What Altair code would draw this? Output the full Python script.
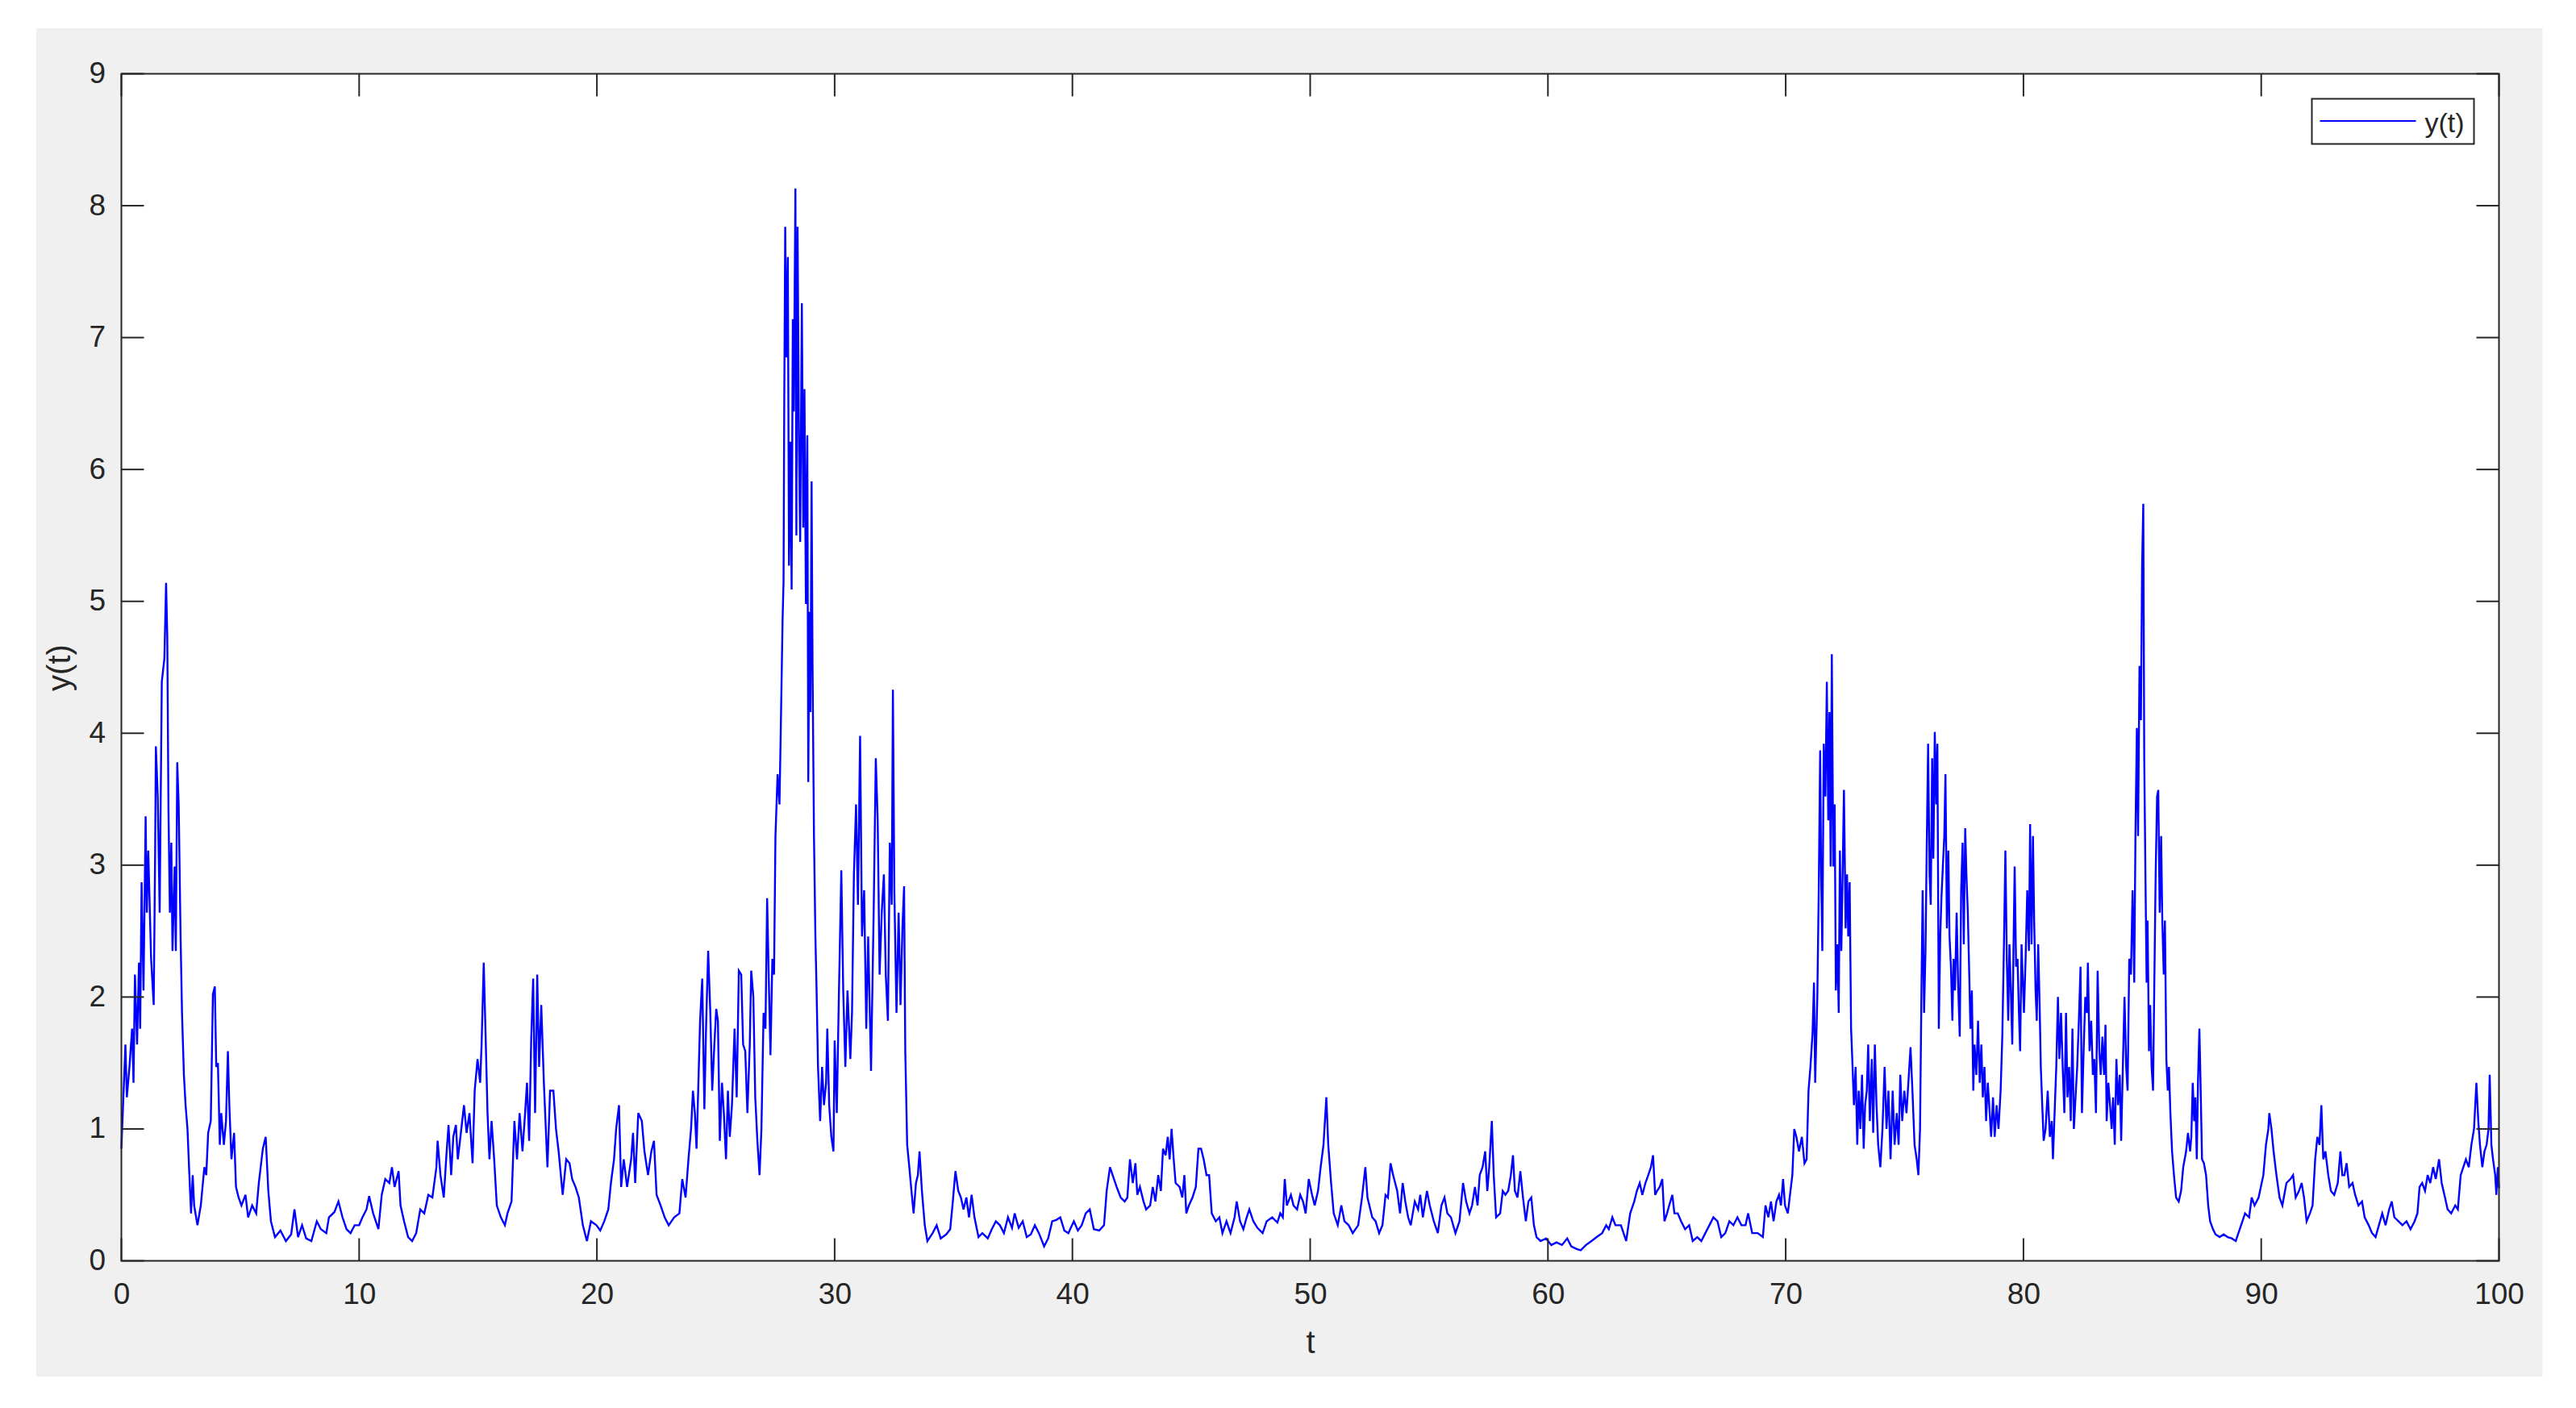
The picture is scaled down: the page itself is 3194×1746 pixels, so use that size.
import altair as alt
import pandas as pd

# ---- data: (t, y(t)) ----
seg_00_10 = [(0, 0.85), (0.17, 1.64), (0.23, 1.24), (0.34, 1.47), (0.45, 1.76), (0.51, 1.35), (0.57, 2.17), (0.66, 1.64),
             (0.74, 2.26), (0.79, 1.76), (0.85, 2.87), (0.93, 2.05), (1.02, 3.37), (1.07, 2.64), (1.13, 3.11), (1.25, 2.29),
             (1.36, 1.94), (1.42, 3.10), (1.45, 3.90), (1.53, 3.52), (1.61, 2.64), (1.70, 4.39), (1.81, 4.57), (1.88, 5.14),
             (1.93, 4.74), (1.98, 3.43), (2.04, 2.64), (2.10, 3.17), (2.15, 2.35), (2.24, 2.99), (2.29, 2.35), (2.35, 3.78),
             (2.41, 3.46), (2.49, 2.46), (2.55, 1.88), (2.63, 1.41), (2.70, 1.18), (2.78, 1.00), (2.86, 0.65), (2.93, 0.36),
             (3.00, 0.65), (3.06, 0.42), (3.20, 0.27), (3.34, 0.42), (3.49, 0.71), (3.57, 0.65), (3.65, 0.97), (3.76, 1.06),
             (3.85, 2.02), (3.93, 2.08), (3.99, 1.47), (4.06, 1.50), (4.14, 0.88), (4.20, 1.12), (4.31, 0.88), (4.40, 1.06),
             (4.48, 1.59), (4.54, 1.18), (4.63, 0.77), (4.74, 0.97), (4.82, 0.56), (4.93, 0.48), (5.05, 0.42), (5.22, 0.50),
             (5.33, 0.33), (5.50, 0.42), (5.67, 0.36), (5.78, 0.59), (5.95, 0.85), (6.07, 0.94), (6.18, 0.53), (6.29, 0.30),
             (6.46, 0.18), (6.69, 0.23), (6.92, 0.15), (7.14, 0.20), (7.28, 0.39), (7.43, 0.18), (7.60, 0.27), (7.77, 0.17),
             (7.99, 0.15), (8.22, 0.30), (8.39, 0.24), (8.62, 0.21), (8.73, 0.33), (8.96, 0.37), (9.13, 0.45), (9.30, 0.33),
             (9.47, 0.24), (9.64, 0.21), (9.81, 0.27), (10.0, 0.27)]

seg_10_20 = [(10.14, 0.33), (10.31, 0.39), (10.42, 0.49), (10.59, 0.36), (10.81, 0.24), (10.95, 0.50), (11.10, 0.62),
             (11.27, 0.59), (11.38, 0.71), (11.49, 0.56), (11.66, 0.68), (11.74, 0.42), (11.89, 0.30), (12.06, 0.18),
             (12.23, 0.15), (12.40, 0.21), (12.57, 0.39), (12.74, 0.36), (12.91, 0.50), (13.08, 0.48), (13.25, 0.71),
             (13.30, 0.91), (13.42, 0.65), (13.56, 0.48), (13.67, 0.80), (13.76, 1.03), (13.87, 0.65), (13.96, 0.94),
             (14.07, 1.03), (14.15, 0.77), (14.26, 0.94), (14.41, 1.18), (14.52, 0.97), (14.64, 1.12), (14.77, 0.74),
             (14.86, 1.29), (14.98, 1.53), (15.09, 1.35), (15.15, 1.64), (15.24, 2.26), (15.32, 1.70), (15.40, 1.12),
             (15.48, 0.77), (15.57, 1.06), (15.68, 0.77), (15.79, 0.42), (15.96, 0.33), (16.13, 0.27), (16.24, 0.36),
             (16.41, 0.45), (16.53, 1.06), (16.64, 0.77), (16.75, 1.12), (16.87, 0.83), (16.98, 1.12), (17.06, 1.35),
             (17.15, 0.91), (17.24, 1.70), (17.32, 2.14), (17.40, 1.12), (17.49, 2.17), (17.57, 1.47), (17.66, 1.94),
             (17.77, 1.35), (17.92, 0.71), (18.03, 1.29), (18.17, 1.29), (18.28, 1.00), (18.39, 0.83), (18.56, 0.50),
             (18.71, 0.77), (18.85, 0.74), (18.96, 0.62), (19.10, 0.56), (19.24, 0.48), (19.41, 0.27), (19.58, 0.15),
             (19.75, 0.30), (19.98, 0.27)]

seg_20_30 = [(20.14, 0.23), (20.31, 0.30), (20.48, 0.39), (20.59, 0.59), (20.72, 0.77), (20.81, 1.00), (20.93, 1.18),
             (21.02, 0.56), (21.13, 0.77), (21.27, 0.56), (21.44, 0.77), (21.52, 0.97), (21.61, 0.59), (21.74, 1.12),
             (21.89, 1.06), (22.00, 0.83), (22.15, 0.65), (22.29, 0.83), (22.40, 0.91), (22.51, 0.50), (22.68, 0.42),
             (22.85, 0.33), (23.02, 0.27), (23.25, 0.33), (23.47, 0.36), (23.59, 0.62), (23.73, 0.48), (23.85, 0.77),
             (23.96, 1.00), (24.04, 1.29), (24.12, 1.12), (24.19, 0.85), (24.26, 1.29), (24.34, 1.82), (24.43, 2.14),
             (24.52, 1.15), (24.59, 1.76), (24.68, 2.35), (24.77, 1.88), (24.85, 1.29), (24.94, 1.64), (25.02, 1.91),
             (25.09, 1.82), (25.17, 0.91), (25.26, 1.35), (25.34, 1.12), (25.43, 0.77), (25.51, 1.29), (25.59, 0.94),
             (25.68, 1.18), (25.79, 1.76), (25.88, 1.24), (25.97, 2.20), (26.07, 2.17), (26.15, 1.64), (26.24, 1.59),
             (26.33, 1.12), (26.43, 1.64), (26.49, 2.20), (26.58, 2.00), (26.66, 1.24), (26.75, 0.91), (26.84, 0.65),
             (26.92, 1.00), (27.01, 1.88), (27.09, 1.76), (27.16, 2.75), (27.24, 2.05), (27.30, 1.56), (27.38, 2.29),
             (27.45, 2.17), (27.51, 3.22), (27.60, 3.69), (27.68, 3.46), (27.74, 4.10), (27.81, 4.86), (27.85, 5.15),
             (27.88, 6.50), (27.92, 7.84), (27.97, 6.85), (28.03, 7.61), (28.08, 5.27), (28.14, 6.21), (28.19, 5.09),
             (28.24, 7.14), (28.28, 6.44), (28.35, 8.13), (28.39, 5.50), (28.44, 7.84), (28.50, 6.15), (28.55, 5.45),
             (28.62, 7.26), (28.68, 5.56), (28.73, 6.61), (28.79, 4.98), (28.85, 6.26), (28.89, 3.63), (28.94, 4.92),
             (28.98, 4.16), (29.03, 5.91), (29.07, 4.51), (29.13, 3.22), (29.19, 2.46), (29.24, 2.05), (29.30, 1.47),
             (29.39, 1.06), (29.47, 1.47), (29.55, 1.18), (29.64, 1.35), (29.69, 1.76), (29.77, 1.18), (29.86, 0.94),
             (29.95, 0.83)]

seg_30_40 = [(30.00, 1.67), (30.09, 1.12), (30.17, 1.94), (30.28, 2.96), (30.36, 2.05), (30.45, 1.47), (30.54, 2.05),
             (30.66, 1.53), (30.73, 1.88), (30.81, 2.93), (30.90, 3.46), (30.98, 2.70), (31.07, 3.98), (31.15, 2.46),
             (31.24, 2.81), (31.33, 1.76), (31.41, 2.46), (31.53, 1.44), (31.64, 2.64), (31.73, 3.81), (31.81, 3.34),
             (31.89, 2.17), (31.98, 2.64), (32.07, 2.93), (32.15, 2.17), (32.24, 1.82), (32.32, 3.17), (32.40, 2.70),
             (32.45, 4.33), (32.51, 2.81), (32.60, 1.88), (32.69, 2.64), (32.77, 1.94), (32.85, 2.52), (32.92, 2.84),
             (32.97, 1.59), (33.05, 0.88), (33.14, 0.71), (33.23, 0.53), (33.32, 0.36), (33.42, 0.59), (33.50, 0.65),
             (33.57, 0.83), (33.67, 0.53), (33.79, 0.27), (33.90, 0.15), (34.12, 0.21), (34.29, 0.27), (34.46, 0.17),
             (34.69, 0.20), (34.86, 0.24), (34.97, 0.45), (35.08, 0.68), (35.20, 0.53), (35.31, 0.48), (35.42, 0.39),
             (35.54, 0.48), (35.65, 0.33), (35.76, 0.50), (35.88, 0.33), (36.05, 0.18), (36.21, 0.21), (36.44, 0.17),
             (36.61, 0.24), (36.78, 0.30), (36.95, 0.27), (37.12, 0.21), (37.29, 0.33), (37.46, 0.25), (37.57, 0.36),
             (37.74, 0.25), (37.91, 0.30), (38.08, 0.18), (38.25, 0.20), (38.42, 0.27), (38.59, 0.21), (38.81, 0.11),
             (38.98, 0.17), (39.15, 0.30), (39.32, 0.31), (39.49, 0.33), (39.66, 0.23), (39.83, 0.21)]

seg_40_50 = [(40.06, 0.30), (40.23, 0.23), (40.39, 0.27), (40.56, 0.36), (40.73, 0.39), (40.90, 0.24), (41.13, 0.23),
             (41.33, 0.27), (41.44, 0.53), (41.58, 0.71), (41.69, 0.65), (41.86, 0.56), (42.03, 0.48), (42.20, 0.45),
             (42.31, 0.48), (42.42, 0.77), (42.54, 0.59), (42.65, 0.74), (42.73, 0.50), (42.84, 0.56), (42.99, 0.45),
             (43.10, 0.39), (43.27, 0.42), (43.38, 0.56), (43.49, 0.45), (43.61, 0.65), (43.72, 0.53), (43.81, 0.85),
             (43.92, 0.80), (44.01, 0.94), (44.09, 0.77), (44.17, 1.00), (44.26, 0.77), (44.34, 0.59), (44.51, 0.56),
             (44.62, 0.48), (44.71, 0.65), (44.79, 0.36), (44.90, 0.42), (45.05, 0.48), (45.19, 0.56), (45.30, 0.85),
             (45.41, 0.85), (45.52, 0.77), (45.64, 0.65), (45.75, 0.65), (45.86, 0.36), (46.03, 0.30), (46.18, 0.33),
             (46.31, 0.21), (46.48, 0.30), (46.65, 0.21), (46.82, 0.33), (46.91, 0.45), (47.05, 0.30), (47.19, 0.24),
             (47.33, 0.33), (47.44, 0.39), (47.61, 0.30), (47.78, 0.25), (48.00, 0.21), (48.17, 0.30), (48.40, 0.33),
             (48.62, 0.29), (48.74, 0.36), (48.85, 0.33), (48.93, 0.62), (49.02, 0.42), (49.19, 0.50), (49.30, 0.42),
             (49.45, 0.39), (49.58, 0.50), (49.70, 0.45), (49.81, 0.36), (49.94, 0.62)]

seg_50_60 = [(50.08, 0.50), (50.19, 0.42), (50.33, 0.53), (50.44, 0.71), (50.56, 0.88), (50.68, 1.24), (50.76, 0.88),
             (50.88, 0.59), (50.99, 0.36), (51.16, 0.27), (51.31, 0.42), (51.44, 0.30), (51.62, 0.27), (51.79, 0.21),
             (52.02, 0.27), (52.18, 0.48), (52.32, 0.71), (52.41, 0.48), (52.61, 0.33), (52.75, 0.30), (52.90, 0.21),
             (53.04, 0.27), (53.17, 0.50), (53.27, 0.48), (53.38, 0.74), (53.49, 0.65), (53.66, 0.53), (53.78, 0.36),
             (53.89, 0.59), (54.00, 0.45), (54.12, 0.33), (54.23, 0.27), (54.40, 0.45), (54.54, 0.39), (54.63, 0.50),
             (54.74, 0.33), (54.91, 0.53), (55.03, 0.42), (55.20, 0.30), (55.37, 0.21), (55.52, 0.42), (55.65, 0.48),
             (55.77, 0.36), (55.92, 0.33), (56.11, 0.21), (56.28, 0.30), (56.43, 0.59), (56.56, 0.45), (56.70, 0.36),
             (56.81, 0.42), (56.93, 0.56), (57.04, 0.42), (57.13, 0.65), (57.25, 0.71), (57.36, 0.83), (57.45, 0.53),
             (57.53, 0.71), (57.64, 1.06), (57.72, 0.65), (57.82, 0.33), (57.99, 0.36), (58.10, 0.53), (58.21, 0.50),
             (58.33, 0.53), (58.44, 0.65), (58.53, 0.80), (58.61, 0.53), (58.72, 0.48), (58.84, 0.68), (58.95, 0.48),
             (59.07, 0.30), (59.18, 0.45), (59.30, 0.48), (59.41, 0.27), (59.52, 0.18), (59.69, 0.15), (59.92, 0.17)]

seg_60_70 = [(60.14, 0.12), (60.36, 0.14), (60.59, 0.12), (60.81, 0.17), (60.98, 0.11), (61.21, 0.09), (61.38, 0.08),
             (61.60, 0.12), (61.83, 0.15), (62.05, 0.18), (62.28, 0.21), (62.45, 0.27), (62.56, 0.24), (62.71, 0.33),
             (62.84, 0.27), (63.07, 0.27), (63.29, 0.15), (63.46, 0.36), (63.63, 0.45), (63.74, 0.53), (63.86, 0.59),
             (63.97, 0.50), (64.10, 0.59), (64.22, 0.65), (64.33, 0.71), (64.42, 0.80), (64.51, 0.50), (64.59, 0.53),
             (64.70, 0.56), (64.81, 0.62), (64.90, 0.30), (65.01, 0.36), (65.10, 0.42), (65.23, 0.50), (65.32, 0.36),
             (65.46, 0.36), (65.60, 0.30), (65.77, 0.24), (65.94, 0.27), (66.09, 0.15), (66.28, 0.18), (66.45, 0.15),
             (66.62, 0.21), (66.79, 0.27), (66.96, 0.33), (67.13, 0.30), (67.29, 0.18), (67.46, 0.21), (67.63, 0.30),
             (67.80, 0.27), (67.97, 0.33), (68.14, 0.27), (68.31, 0.27), (68.42, 0.36), (68.59, 0.21), (68.82, 0.21),
             (69.04, 0.18), (69.15, 0.42), (69.27, 0.33), (69.38, 0.45), (69.49, 0.30), (69.61, 0.45), (69.72, 0.50),
             (69.80, 0.42), (69.89, 0.62), (69.97, 0.42)]

seg_70_80 = [(70.09, 0.36), (70.20, 0.53), (70.28, 0.65), (70.36, 1.00), (70.45, 0.94), (70.56, 0.83), (70.68, 0.94),
             (70.79, 0.74), (70.88, 0.77), (70.96, 1.29), (71.04, 1.47), (71.13, 1.73), (71.19, 2.11), (71.24, 1.35),
             (71.33, 2.00), (71.39, 2.81), (71.45, 3.87), (71.49, 2.93), (71.54, 2.35), (71.60, 3.92), (71.67, 3.52),
             (71.73, 4.39), (71.79, 3.34), (71.84, 4.16), (71.89, 2.99), (71.94, 4.60), (72.00, 2.99), (72.06, 3.46),
             (72.11, 2.05), (72.17, 2.40), (72.23, 1.88), (72.28, 3.11), (72.34, 2.35), (72.40, 2.99), (72.45, 3.57),
             (72.52, 2.52), (72.58, 2.93), (72.63, 2.46), (72.69, 2.87), (72.75, 1.76), (72.80, 1.53), (72.87, 1.18),
             (72.94, 1.47), (73.01, 0.88), (73.07, 1.29), (73.14, 1.00), (73.21, 1.41), (73.28, 0.85), (73.34, 1.18),
             (73.41, 1.29), (73.47, 1.64), (73.54, 1.06), (73.62, 1.53), (73.68, 0.97), (73.75, 1.64), (73.82, 1.18),
             (73.89, 0.88), (73.98, 0.71), (74.07, 1.00), (74.16, 1.47), (74.24, 1.00), (74.32, 1.29), (74.41, 0.77),
             (74.50, 1.29), (74.58, 0.88), (74.67, 1.12), (74.75, 0.88), (74.82, 1.41), (74.90, 1.06), (74.99, 1.29),
             (75.08, 1.12), (75.18, 1.41), (75.25, 1.62), (75.33, 1.29), (75.42, 0.88), (75.51, 0.77), (75.58, 0.65),
             (75.65, 1.00), (75.71, 2.05), (75.76, 2.81), (75.82, 1.88), (75.88, 2.35), (75.93, 3.11), (75.99, 3.92),
             (76.05, 2.93), (76.10, 2.70), (76.16, 3.81), (76.21, 3.05), (76.27, 4.01), (76.33, 3.46), (76.38, 3.92),
             (76.44, 1.76), (76.50, 2.46), (76.55, 2.75), (76.61, 2.99), (76.67, 3.22), (76.72, 3.69), (76.78, 2.52),
             (76.84, 3.11), (76.89, 2.46), (76.95, 2.23), (77.01, 1.82), (77.06, 2.29), (77.12, 2.05), (77.19, 2.64),
             (77.25, 2.11), (77.32, 1.70), (77.38, 2.81), (77.44, 3.17), (77.49, 2.40), (77.55, 3.28), (77.60, 2.93),
             (77.66, 2.64), (77.72, 2.17), (77.77, 1.76), (77.83, 2.05), (77.89, 1.29), (77.94, 1.64), (78.02, 1.41),
             (78.09, 1.82), (78.16, 1.35), (78.23, 1.64), (78.29, 1.24), (78.36, 1.47), (78.43, 1.06), (78.50, 1.35),
             (78.56, 1.18), (78.64, 0.94), (78.72, 1.24), (78.79, 0.94), (78.87, 1.18), (78.95, 1.00), (79.04, 1.29),
             (79.11, 1.70), (79.18, 2.40), (79.24, 3.11), (79.30, 2.29), (79.36, 1.82), (79.41, 2.40), (79.47, 2.05),
             (79.53, 1.64), (79.58, 2.35), (79.63, 2.99), (79.69, 2.23), (79.75, 2.29), (79.81, 1.88), (79.86, 1.59),
             (79.92, 2.40)]

seg_80_90 = [(80.02, 1.88), (80.09, 2.29), (80.16, 2.81), (80.23, 2.35), (80.28, 3.31), (80.34, 2.40), (80.40, 3.22),
             (80.45, 2.58), (80.51, 2.05), (80.56, 1.82), (80.62, 2.40), (80.68, 1.94), (80.73, 1.47), (80.79, 1.18),
             (80.85, 0.91), (80.93, 1.00), (81.02, 1.29), (81.11, 0.94), (81.19, 1.06), (81.24, 0.77), (81.31, 1.12),
             (81.38, 1.47), (81.45, 2.00), (81.51, 1.53), (81.58, 1.88), (81.65, 1.47), (81.72, 1.12), (81.79, 1.88),
             (81.85, 1.24), (81.92, 1.47), (81.99, 1.06), (82.06, 1.76), (82.12, 1.00), (82.19, 1.24), (82.26, 1.47),
             (82.33, 1.82), (82.40, 2.23), (82.46, 1.12), (82.53, 1.59), (82.60, 2.00), (82.67, 1.88), (82.71, 2.26),
             (82.78, 1.59), (82.85, 1.82), (82.92, 1.41), (82.98, 1.53), (83.05, 1.12), (83.12, 2.20), (83.19, 1.59),
             (83.25, 1.41), (83.32, 1.70), (83.39, 1.41), (83.45, 1.79), (83.50, 1.06), (83.57, 1.35), (83.64, 1.18),
             (83.71, 1.00), (83.77, 1.24), (83.84, 0.88), (83.91, 1.53), (83.98, 1.18), (84.05, 1.41), (84.11, 0.91),
             (84.18, 1.47), (84.25, 2.00), (84.32, 1.47), (84.38, 1.29), (84.45, 2.29), (84.52, 2.17), (84.59, 2.81),
             (84.66, 2.11), (84.71, 3.22), (84.77, 4.04), (84.82, 3.22), (84.88, 4.51), (84.94, 4.10), (84.99, 5.27),
             (85.04, 5.74), (85.08, 3.81), (85.13, 2.93), (85.18, 2.11), (85.22, 2.58), (85.28, 1.59), (85.33, 1.94),
             (85.39, 1.47), (85.45, 1.29), (85.50, 2.05), (85.56, 2.93), (85.62, 3.52), (85.67, 3.57), (85.73, 2.64),
             (85.79, 3.22), (85.84, 2.58), (85.90, 2.17), (85.95, 2.58), (86.01, 1.53), (86.07, 1.29), (86.12, 1.47),
             (86.18, 1.12), (86.25, 0.83), (86.33, 0.65), (86.42, 0.48), (86.53, 0.45), (86.63, 0.53), (86.72, 0.71),
             (86.84, 0.83), (86.92, 0.97), (87.01, 0.83), (87.06, 0.94), (87.12, 1.35), (87.18, 1.06), (87.23, 1.24),
             (87.29, 0.77), (87.34, 1.35), (87.40, 1.76), (87.46, 1.24), (87.51, 0.77), (87.59, 0.74), (87.68, 0.65),
             (87.77, 0.42), (87.85, 0.30), (87.97, 0.24), (88.08, 0.20), (88.25, 0.18), (88.42, 0.20), (88.59, 0.18),
             (88.76, 0.17), (88.93, 0.15), (89.04, 0.21), (89.21, 0.30), (89.32, 0.36), (89.49, 0.33), (89.60, 0.48),
             (89.72, 0.42), (89.89, 0.48)]

seg_90_100 = [(90.09, 0.65), (90.20, 0.88), (90.30, 1.00), (90.34, 1.12), (90.43, 1.00), (90.52, 0.83), (90.64, 0.65),
              (90.77, 0.48), (90.89, 0.42), (91.06, 0.59), (91.23, 0.62), (91.34, 0.65), (91.45, 0.48), (91.59, 0.53),
              (91.70, 0.59), (91.80, 0.48), (91.91, 0.30), (92.05, 0.36), (92.16, 0.42), (92.27, 0.77), (92.36, 0.94),
              (92.45, 0.88), (92.53, 1.18), (92.61, 0.77), (92.70, 0.83), (92.82, 0.65), (92.93, 0.53), (93.07, 0.50),
              (93.22, 0.59), (93.33, 0.83), (93.41, 0.65), (93.50, 0.65), (93.59, 0.74), (93.70, 0.56), (93.84, 0.59),
              (93.95, 0.50), (94.09, 0.42), (94.24, 0.45), (94.35, 0.33), (94.52, 0.27), (94.66, 0.21), (94.81, 0.18),
              (94.95, 0.27), (95.09, 0.36), (95.23, 0.27), (95.38, 0.39), (95.49, 0.45), (95.60, 0.33), (95.77, 0.30),
              (95.94, 0.27), (96.11, 0.30), (96.28, 0.24), (96.45, 0.30), (96.57, 0.36), (96.66, 0.56), (96.77, 0.59),
              (96.89, 0.53), (97.00, 0.65), (97.11, 0.59), (97.23, 0.71), (97.34, 0.62), (97.48, 0.77), (97.59, 0.59),
              (97.73, 0.48), (97.84, 0.39), (97.99, 0.36), (98.16, 0.42), (98.27, 0.39), (98.39, 0.65), (98.50, 0.71),
              (98.61, 0.77), (98.73, 0.71), (98.84, 0.88), (98.95, 1.00), (99.05, 1.35), (99.13, 1.06), (99.20, 0.88),
              (99.30, 0.71), (99.39, 0.83), (99.48, 0.88), (99.56, 1.00), (99.61, 1.41), (99.68, 0.88), (99.75, 0.77),
              (99.84, 0.65), (99.89, 0.50), (99.95, 0.71), (100.0, 0.55)]

x_ticks = [0, 10, 20, 30, 40, 50, 60, 70, 80, 90, 100]
y_ticks = [0, 1, 2, 3, 4, 5, 6, 7, 8, 9]
legend_labels = ["y(t)"]

points = (seg_00_10 + seg_10_20 + seg_20_30 + seg_30_40 + seg_40_50 +
          seg_50_60 + seg_60_70 + seg_70_80 + seg_80_90 + seg_90_100)
df = pd.DataFrame(points, columns=["t", "y"])
xt = pd.DataFrame({"t": x_ticks})
yt = pd.DataFrame({"y": y_ticks})
leg = pd.DataFrame({"label": legend_labels})
one = alt.Data(values=[{"k": 1}])

W, H = 2948, 1472
FONT = "Liberation Sans"
INK = "#262626"
BLUE = "#0000ff"
TICK = 28

xs = alt.Scale(domain=[0, 100], nice=False, zero=False)
ys = alt.Scale(domain=[0, 9], nice=False, zero=False)

x_axis = alt.Axis(
    values=x_ticks, ticks=False, tickSize=0, domain=False, grid=False, format="d",
    labelFlush=False, labelOverlap=False,
    labelFont=FONT, labelFontSize=37, labelColor=INK, labelPadding=24,
    title="t", titleFont=FONT, titleFontSize=40, titleFontWeight="normal", titleColor=INK,
    titleX=W / 2, titleY=102, titleAlign="center", titleBaseline="middle", zindex=2)
y_axis = alt.Axis(
    values=y_ticks, ticks=False, tickSize=0, domain=False, grid=False, format="d",
    labelFlush=False, labelOverlap=False,
    labelFont=FONT, labelFontSize=37, labelColor=INK, labelPadding=20,
    title="y(t)", titleFont=FONT, titleFontSize=40, titleFontWeight="normal", titleColor=INK,
    titleX=-76, titleY=H / 2, titleAngle=-90, titleAlign="center", titleBaseline="middle", zindex=2)

fig_bg = alt.Chart(one).mark_rect(color="#f0f0f0").encode(
    x=alt.value(-105.5), x2=alt.value(W + 54), y=alt.value(-56.5), y2=alt.value(H + 143.5))
plot_bg = alt.Chart(one).mark_rect(color="white").encode(
    x=alt.value(0), x2=alt.value(W), y=alt.value(0), y2=alt.value(H))

line = alt.Chart(df).mark_line(color=BLUE, strokeWidth=2.4).encode(
    x=alt.X("t:Q", scale=xs, axis=x_axis),
    y=alt.Y("y:Q", scale=ys, axis=y_axis),
)

xtick_bottom = alt.Chart(xt).mark_rule(color=INK, strokeWidth=2).encode(
    x=alt.X("t:Q", scale=xs, axis=x_axis), y=alt.value(H), y2=alt.value(H - TICK))
xtick_top = alt.Chart(xt).mark_rule(color=INK, strokeWidth=2).encode(
    x=alt.X("t:Q", scale=xs, axis=x_axis), y=alt.value(0), y2=alt.value(TICK))
ytick_left = alt.Chart(yt).mark_rule(color=INK, strokeWidth=2).encode(
    y=alt.Y("y:Q", scale=ys, axis=y_axis), x=alt.value(0), x2=alt.value(TICK))
ytick_right = alt.Chart(yt).mark_rule(color=INK, strokeWidth=2).encode(
    y=alt.Y("y:Q", scale=ys, axis=y_axis), x=alt.value(W - TICK), x2=alt.value(W))

box = alt.Chart(one).mark_rect(fillOpacity=0, stroke=INK, strokeWidth=2).encode(
    x=alt.value(0), x2=alt.value(W), y=alt.value(0), y2=alt.value(H))

leg_box = alt.Chart(one).mark_rect(fill="white", stroke=INK, strokeWidth=2).encode(
    x=alt.value(W - 232), x2=alt.value(W - 31), y=alt.value(31), y2=alt.value(87))
leg_line = alt.Chart(one).mark_rule(color=BLUE, strokeWidth=2).encode(
    x=alt.value(W - 222), x2=alt.value(W - 103), y=alt.value(58.5))
leg_text = alt.Chart(leg).mark_text(font=FONT, fontSize=34, color=INK, align="right", baseline="middle").encode(
    x=alt.value(W - 43), y=alt.value(62), text="label:N")

chart = alt.layer(
    fig_bg, plot_bg, line, xtick_bottom, xtick_top, ytick_left, ytick_right, box,
    leg_box, leg_line, leg_text
).properties(
    width=W, height=H,
    autosize=alt.AutoSizeParams(type="none"),
    padding={"left": 142.5, "top": 83.5, "right": 60, "bottom": 170},
    background="white",
).configure_view(stroke=None)

chart.save("out.html", embed_options={"renderer": "svg", "actions": False})
